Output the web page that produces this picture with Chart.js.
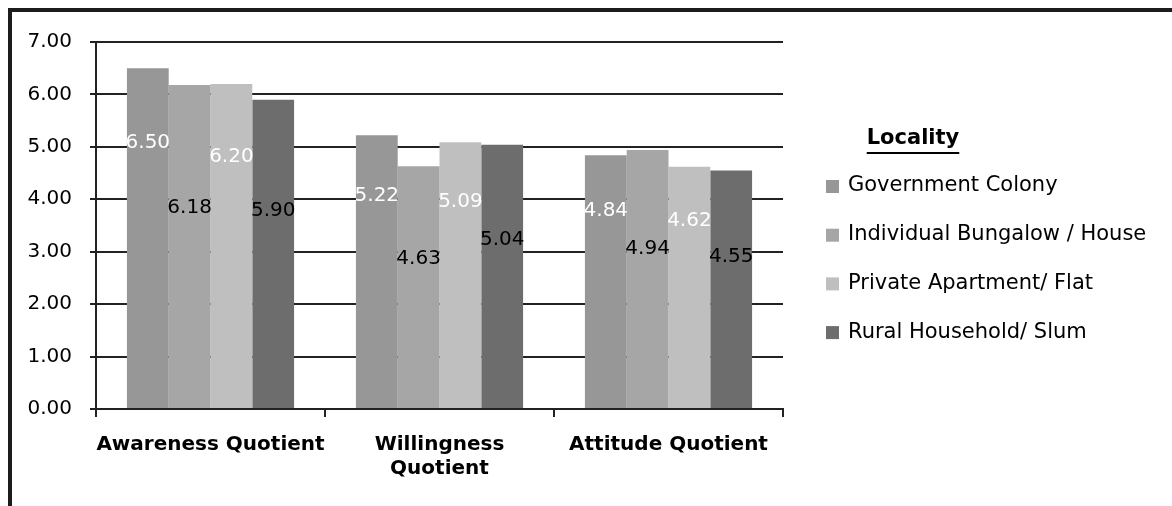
<!DOCTYPE html>
<html>
<head>
<meta charset="utf-8">
<script src="https://cdn.jsdelivr.net/npm/chart.js@4.4.0/dist/chart.umd.min.js"></script>
<style>
  html, body { margin: 0; padding: 0; background: #fff; width: 1172px; height: 506px; overflow: hidden; }
  #frame { position: absolute; left: 8px; top: 8px; width: 1164px; height: 498px;
           border-top: 4px solid #1c1c1c; border-left: 4px solid #1c1c1c; box-sizing: border-box; }
  #wrap { position: absolute; left: 12px; top: 12px; width: 1160px; height: 494px; }
</style>
</head>
<body>
<div id="frame"></div>
<div id="wrap"><canvas id="c" width="1160" height="494"></canvas></div>
<script>
// Quotient categories (multi-line where the label wraps)
const categories = [['Awareness Quotient'], ['Willingness', 'Quotient'], ['Attitude Quotient']];

// Mean scores per locality
const governmentColony   = [6.50, 5.22, 4.84];
const individualBungalow = [6.18, 4.63, 4.94];
const privateApartment   = [6.20, 5.09, 4.62];
const ruralHousehold     = [5.90, 5.04, 4.55];

const seriesNames = ['Government Colony', 'Individual Bungalow / House', 'Private Apartment/ Flat', 'Rural Household/ Slum'];
const legendTitle = 'Locality';

// Value axis range
const yMin = 0, yMax = 7, yStep = 1;

const FONT = '"DejaVu Sans", sans-serif';
const barColors = ['#979797', '#a6a6a6', '#bfbfbf', '#6d6d6d'];
const labelColors = ['#ffffff', '#000000', '#ffffff', '#000000'];
// how far up the bar each series writes its value (fraction of the value)
const labelDepth = [0.78, 0.62, 0.776, 0.64];

const seriesValues = [governmentColony, individualBungalow, privateApartment, ruralHousehold];

const datasets = seriesValues.map((vals, i) => ({
  label: seriesNames[i],
  data: vals,
  backgroundColor: barColors[i],
  borderWidth: 0,
  categoryPercentage: 0.73,
  barPercentage: 1.0
}));

// Value labels written inside the bars
const valueLabels = {
  id: 'valueLabels',
  afterDatasetsDraw(chart) {
    const ctx = chart.ctx;
    const y = chart.scales.y;
    ctx.save();
    ctx.font = '20px ' + FONT;
    ctx.textAlign = 'center';
    ctx.textBaseline = 'middle';
    chart.data.datasets.forEach((ds, i) => {
      const meta = chart.getDatasetMeta(i);
      meta.data.forEach((bar, j) => {
        const v = ds.data[j];
        ctx.fillStyle = labelColors[i];
        ctx.fillText(v.toFixed(2), bar.x, y.getPixelForValue(v * labelDepth[i]));
      });
    });
    ctx.restore();
  }
};

// Legend block on the right with an underlined title
const sideLegend = {
  id: 'sideLegend',
  afterDraw(chart) {
    const ctx = chart.ctx;
    ctx.save();
    ctx.fillStyle = '#000';
    ctx.font = 'bold 21px ' + FONT;
    ctx.textAlign = 'center';
    ctx.textBaseline = 'middle';
    const tx = 901, ty = 127;
    ctx.fillText(legendTitle, tx, ty);
    const w = ctx.measureText(legendTitle).width;
    ctx.fillRect(tx - w / 2, ty + 13, w, 2);

    ctx.font = '21px ' + FONT;
    ctx.textAlign = 'left';
    chart.data.datasets.forEach((ds, i) => {
      const cy = 174 + i * 48.7;
      ctx.fillStyle = ds.backgroundColor;
      ctx.fillRect(814, cy - 6, 13, 13);
      ctx.fillStyle = '#000';
      ctx.fillText(ds.label, 836, cy);
    });
    ctx.restore();
  }
};

new Chart(document.getElementById('c'), {
  type: 'bar',
  data: { labels: categories, datasets },
  options: {
    responsive: false,
    animation: false,
    layout: { padding: { top: 28, right: 389, bottom: 0, left: 0 } },
    plugins: { legend: { display: false }, tooltip: { enabled: false } },
    scales: {
      x: {
        offset: true,
        afterFit(scale) { scale.height = 97; },
        grid: { offset: true, drawOnChartArea: false, drawTicks: true, tickLength: 8, color: '#222', lineWidth: 2 },
        border: { display: true, color: '#222', width: 2 },
        ticks: { color: '#000', font: { family: FONT, size: 20, weight: 'bold' }, padding: 16, maxRotation: 0, autoSkip: false }
      },
      y: {
        min: yMin, max: yMax,
        afterFit(scale) { scale.width = 84; },
        grid: { color: '#222', lineWidth: 2, tickLength: 6, drawTicks: true },
        border: { display: true, color: '#222', width: 2 },
        ticks: { stepSize: yStep, color: '#000', padding: 18, font: { family: FONT, size: 20 },
                 callback: v => Number(v).toFixed(2) }
      }
    }
  },
  plugins: [valueLabels, sideLegend]
});
</script>
</body>
</html>
